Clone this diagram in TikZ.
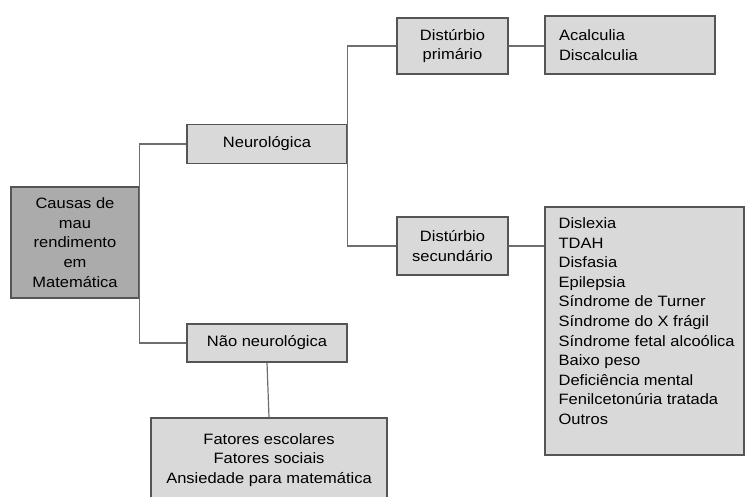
\documentclass[tikz,border=0pt]{standalone}
\usepackage{fontspec}
\setmainfont{Liberation Sans}[FakeStretch=1.1]
\usetikzlibrary{positioning}
\definecolor{boxgray}{HTML}{D9D9D9}
\definecolor{rootgray}{HTML}{ABABAB}
\definecolor{edgegray}{HTML}{555555}
\definecolor{linegray}{HTML}{6E6E6E}

\begin{document}
\begin{tikzpicture}[x=1pt,y=-1pt,
	every node/.style={font=\fontsize{15}{19.6}\selectfont},
	box/.style={draw=edgegray,line width=1.2pt,fill=boxgray,inner sep=0pt,align=center},
	rootbox/.style={box,fill=rootgray},
	link/.style={draw=linegray,line width=1.2pt}]
	\useasboundingbox (0,0) rectangle (745,497);
	% left part
	\node[rootbox,minimum width=128pt,minimum height=111pt] (causas) at (75,242.5) {Causas de\\mau\\rendimento\\em\\Matemática};
	\node[box,minimum width=160pt,minimum height=39pt] (neuro) at (267,144) {Neurológica};
	\node[box,minimum width=160pt,minimum height=38pt] (naoneuro) at (267,343) {Não neurológica};
	\node[box,minimum width=236pt,minimum height=84pt] (fatores) at (269,460) {Fatores escolares\\Fatores sociais\\Ansiedade para matemática};
	% right part
	\node[box,minimum width=111pt,minimum height=56pt] (prim) at (452.5,46) {Distúrbio\\primário};
	\node[box,minimum width=111pt,minimum height=58pt] (sec) at (452.5,246) {Distúrbio\\secundário};
	\node[box,align=left,inner xsep=14pt,text width=142pt,minimum height=58pt] (acalc) at (630,45) {Acalculia\\Discalculia};
	\node[box,minimum width=199pt,minimum height=248pt] (secundarios) at (644.5,331) {};
	\node[below right=11pt and 14pt of secundarios.north west,align=left,inner sep=0pt] (secundariostexto) {Dislexia\\TDAH\\Disfasia\\Epilepsia\\Síndrome de Turner\\Síndrome do X frágil\\Síndrome fetal alcoólica\\Baixo peso\\Deficiência mental\\Fenilcetonúria tratada\\Outros};
	% connectors
	\draw[link] (neuro.west) -| (causas.east) |- (naoneuro.west);
	\draw[link] (prim.west) -| (neuro.east) |- (sec.west);
	\draw[link] (prim.east) -- (acalc.west |- prim.east);
	\draw[link] (sec.east) -- (secundarios.west |- sec.east);
	\draw[link] (naoneuro.south) -- (fatores.north);
\end{tikzpicture}
\end{document}
